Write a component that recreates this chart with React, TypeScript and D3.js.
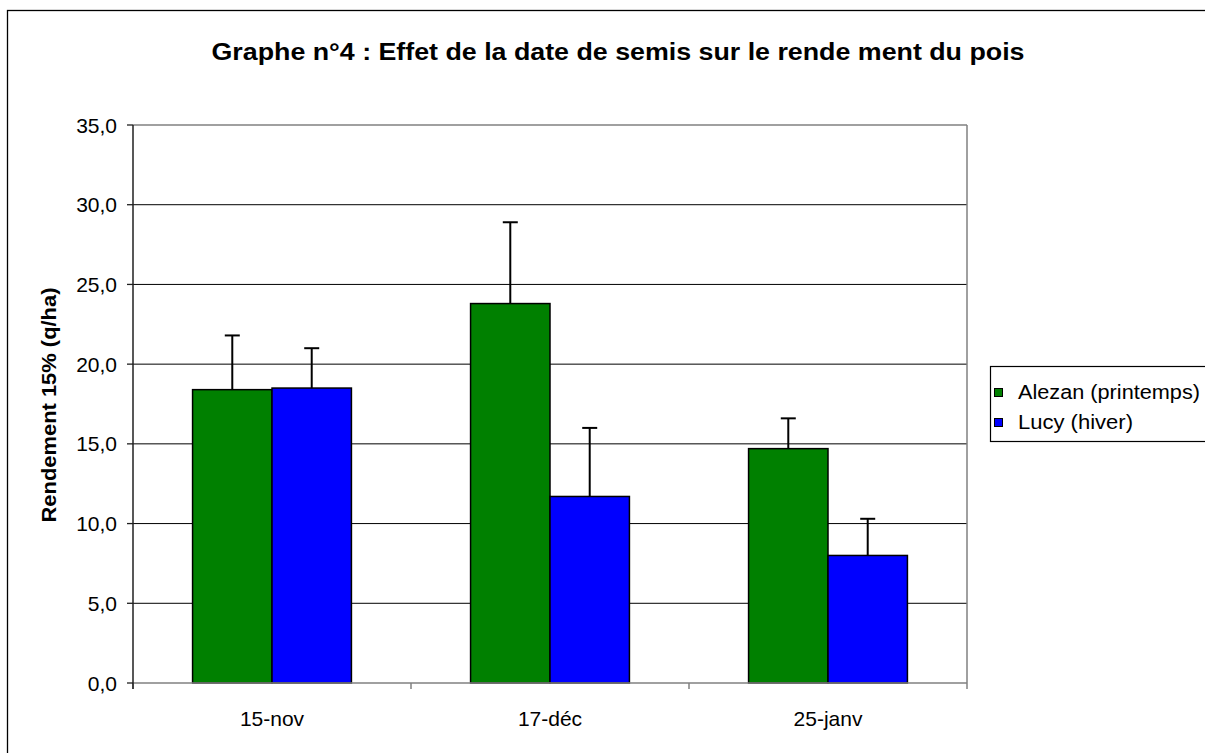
import React from "react";
import * as d3 from "d3";

const categories = ["15-nov", "17-déc", "25-janv"];
const series = ["Alezan (printemps)", "Lucy (hiver)"];
const alezan = [18.4, 23.8, 14.7];
const lucy = [18.5, 11.7, 8.0];
const alezanErr = [3.4, 5.1, 1.9];
const lucyErr = [2.5, 4.3, 2.3];
const yTicks = [0, 5, 10, 15, 20, 25, 30, 35];

const colors = ["#008000", "#0000ff"];
const font = "'Liberation Sans', Arial, sans-serif";

const fr = d3.formatLocale({
  decimal: ",",
  thousands: " ",
  grouping: [3],
  currency: ["", " €"],
});
const fmt = fr.format(".1f");

const App = () => {
  const left = 133;
  const right = 967;
  const top = 125;
  const bottom = 683;

  const y = d3.scaleLinear().domain([0, 35]).range([bottom, top]);
  const x0 = d3
    .scaleBand()
    .domain(categories)
    .range([left, right])
    .paddingInner(3 / 7)
    .paddingOuter(3 / 14);
  const x1 = d3.scaleBand().domain(series).range([0, x0.bandwidth()]);
  const step = x0.step();
  const boundaries = d3.range(categories.length + 1).map((i) => left + i * step);
  const legendLen = [182, 115];

  const rows = categories.map((c, i) => ({
    cat: c,
    bars: [
      { s: series[0], v: alezan[i], e: alezanErr[i], color: colors[0] },
      { s: series[1], v: lucy[i], e: lucyErr[i], color: colors[1] },
    ],
  }));

  return (
    <svg
      width={1205}
      height={753}
      style={{ position: "absolute", left: 0, top: 0, background: "#fff" }}
      fontFamily={font}
    >
      <rect x={0} y={0} width={1205} height={753} fill="#fff" />
      {/* outer chart frame */}
      <rect x={7.5} y={10.5} width={1300} height={800} fill="none" stroke="#000" strokeWidth={1.3} />

      <text
        x={618}
        y={60}
        textAnchor="middle"
        fontSize={23}
        fontWeight="bold"
        textLength={813}
        lengthAdjust="spacingAndGlyphs"
      >
        Graphe n°4 : Effet de la date de semis sur le rende ment du pois
      </text>

      {/* gridlines */}
      {yTicks.slice(1, -1).map((t) => (
        <line key={t} x1={left} x2={right} y1={y(t)} y2={y(t)} stroke="#000" strokeWidth={1} />
      ))}
      {/* plot border top/right */}
      <line x1={left} x2={right} y1={y(35)} y2={y(35)} stroke="#808080" strokeWidth={1.5} />
      <line x1={right} x2={right} y1={top} y2={bottom} stroke="#808080" strokeWidth={1.5} />

      {/* bars */}
      {rows.map((r) => (
        <g key={r.cat} transform={`translate(${x0(r.cat)},0)`}>
          {r.bars.map((b) => (
            <rect
              key={b.s}
              x={x1(b.s)}
              y={y(b.v)}
              width={x1.bandwidth()}
              height={y(0) - y(b.v)}
              fill={b.color}
              stroke="#000"
              strokeWidth={1.5}
            />
          ))}
          {r.bars.map((b) => {
            const cx = (x1(b.s) as number) + x1.bandwidth() / 2;
            return (
              <g key={b.s + "err"} stroke="#000" strokeWidth={2}>
                <line x1={cx} x2={cx} y1={y(b.v)} y2={y(b.v + b.e)} />
                <line x1={cx - 7.5} x2={cx + 7.5} y1={y(b.v + b.e)} y2={y(b.v + b.e)} />
              </g>
            );
          })}
        </g>
      ))}

      {/* x axis */}
      <line x1={left} x2={right} y1={bottom} y2={bottom} stroke="#808080" strokeWidth={1.5} />
      {boundaries.map((bx, i) => (
        <line key={i} x1={bx} x2={bx} y1={bottom} y2={bottom + 6} stroke="#808080" strokeWidth={1.5} />
      ))}
      {categories.map((c) => (
        <text
          key={c}
          x={(x0(c) as number) + x0.bandwidth() / 2}
          y={726}
          textAnchor="middle"
          fontSize={21}
        >
          {c}
        </text>
      ))}

      {/* y axis */}
      <line x1={left} x2={left} y1={top} y2={bottom + 6} stroke="#202020" strokeWidth={1.5} />
      {yTicks.map((t) => (
        <g key={t}>
          <line x1={left - 6} x2={left} y1={y(t)} y2={y(t)} stroke="#202020" strokeWidth={1.3} />
          <text x={117} y={y(t)} dy="0.36em" textAnchor="end" fontSize={21}>
            {fmt(t)}
          </text>
        </g>
      ))}
      <text
        transform={`translate(56,405) rotate(-90)`}
        textAnchor="middle"
        fontSize={21}
        fontWeight="bold"
        textLength={235}
        lengthAdjust="spacingAndGlyphs"
      >
        Rendement 15% (q/ha)
      </text>

      {/* legend */}
      <rect x={990.5} y={366.5} width={240} height={75} fill="#fff" stroke="#000" strokeWidth={1.2} />
      {series.map((s, i) => (
        <g key={s}>
          <rect x={994.5} y={388.5 + i * 30} width={8} height={8} fill={colors[i]} stroke="#000" strokeWidth={1} />
          <text
            x={1018}
            y={399 + i * 30}
            fontSize={20}
            textLength={legendLen[i]}
            lengthAdjust="spacingAndGlyphs"
          >
            {s}
          </text>
        </g>
      ))}
    </svg>
  );
};

export default App;
